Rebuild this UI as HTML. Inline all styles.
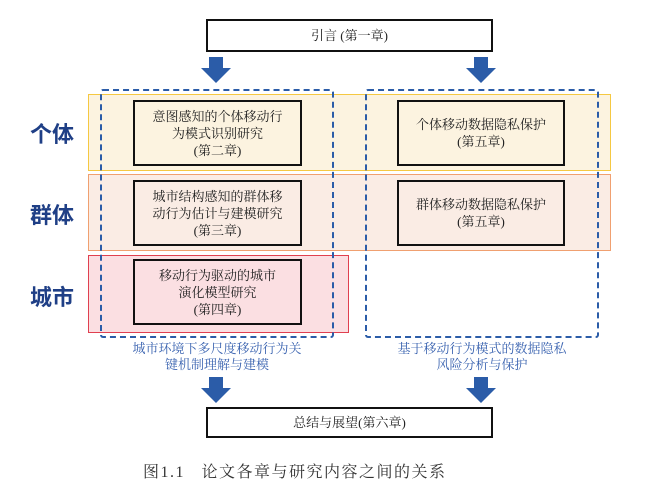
<!DOCTYPE html>
<html><head><meta charset="utf-8"><style>
body{margin:0;width:653px;height:494px;background:#fff;position:relative;overflow:hidden;font-family:"Liberation Serif","Noto Serif CJK SC",serif;}
div{position:absolute;box-sizing:border-box}
.b{border:2px solid #111;display:flex;align-items:center;justify-content:center;text-align:center;font-size:13px;line-height:17px;color:#222}
.lab{font-family:"Liberation Sans","Noto Sans CJK SC",sans-serif;font-size:22px;font-weight:bold;color:#1f3f86;left:30px}
.bl{color:#3a63b0;font-size:13px;line-height:16px;text-align:center}
</style></head><body>
<div class="b" style="left:206px;top:19px;width:287px;height:33px;background:#fff">引言 (第一章)</div>
<div style="left:88px;top:94px;width:523px;height:77px;background:#fcf3e0;border:1.5px solid #f5c842"></div>
<div style="left:88px;top:174px;width:523px;height:77px;background:#faece4;border:1.5px solid #f0a070"></div>
<div style="left:88px;top:255px;width:261px;height:78px;background:#fbdfe2;border:1.5px solid #e04050"></div>
<svg style="position:absolute;left:0;top:0" width="653" height="494">
<g fill="#2b5ca8">
<polygon points="209,57 223,57 223,68 231,68 216,83 201,68 209,68"/>
<polygon points="474,57 488,57 488,68 496,68 481,83 466,68 474,68"/>
<polygon points="209,377 223,377 223,388 231,388 216,403 201,388 209,388"/>
<polygon points="474,377 488,377 488,388 496,388 481,403 466,388 474,388"/>
</g></svg>
<div class="lab" style="top:117px">个体</div>
<div class="lab" style="top:198px">群体</div>
<div class="lab" style="top:280px">城市</div>
<div class="b" style="left:133px;top:100px;width:169px;height:66px;background:#fcf3e0">意图感知的个体移动行<br>为模式识别研究<br>(第二章)</div>
<div class="b" style="left:133px;top:180px;width:169px;height:66px;background:#faece4">城市结构感知的群体移<br>动行为估计与建模研究<br>(第三章)</div>
<div class="b" style="left:133px;top:259px;width:169px;height:66px;background:#fbdfe2">移动行为驱动的城市<br>演化模型研究<br>(第四章)</div>
<div class="b" style="left:397px;top:100px;width:168px;height:66px;background:#fcf3e0">个体移动数据隐私保护<br>(第五章)</div>
<div class="b" style="left:397px;top:180px;width:168px;height:66px;background:#faece4">群体移动数据隐私保护<br>(第五章)</div>
<div style="left:100px;top:89px;width:234px;height:249px;border:2px dashed #2b5ca8;border-radius:3px"></div>
<div style="left:365px;top:89px;width:234px;height:249px;border:2px dashed #2b5ca8;border-radius:3px"></div>
<div class="bl" style="left:100px;top:341px;width:234px">城市环境下多尺度移动行为关<br>键机制理解与建模</div>
<div class="bl" style="left:365px;top:341px;width:234px">基于移动行为模式的数据隐私<br>风险分析与保护</div>
<div class="b" style="left:206px;top:407px;width:287px;height:31px;background:#fff">总结与展望(第六章)</div>
<div style="left:143px;top:459px;width:345px;font-size:16px;color:#333;letter-spacing:1.5px;white-space:nowrap">图1.1&nbsp;&nbsp;&nbsp;论文各章与研究内容之间的关系</div>
</body></html>
